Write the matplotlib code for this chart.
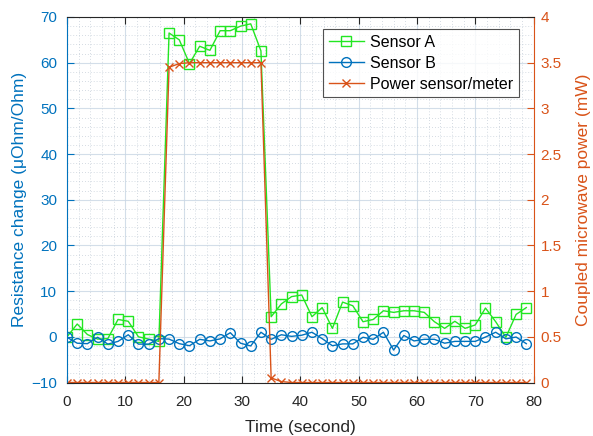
import numpy as np
import matplotlib
matplotlib.use("Agg")
import matplotlib.pyplot as plt
from matplotlib.ticker import MultipleLocator, FuncFormatter

plt.rcParams['font.family'] = ['Liberation Sans', 'DejaVu Sans']

time_step = 1.75
n_points = 46
time_s = [i * time_step for i in range(n_points)]

sensor_a = [0.0, 2.8, 0.5, -0.5, -0.4, 3.8, 3.4, 0.0, -0.5, -1.0,
            66.5, 65.0, 59.8, 63.6, 62.7, 67.0, 67.0, 68.0, 68.5, 62.6,
            4.4, 7.2, 8.8, 9.15, 4.4, 6.4, 1.85, 7.6, 6.8, 3.3,
            3.8, 5.7, 5.35, 5.7, 5.7, 5.35, 3.3, 1.85, 3.4, 1.85,
            2.6, 6.3, 3.3, -0.1, 4.9, 6.4]

sensor_b = [-0.1, -1.4, -1.5, -0.1, -1.6, -1.0, 0.45, -1.6, -1.6, -0.4,
            -0.5, -1.5, -1.95, -0.55, -0.9, -0.45, 0.9, -1.4, -2.0, 1.0,
            -0.55, 0.45, 0.1, 0.35, 1.0, -0.4, -1.95, -1.55, -1.55, -0.1,
            -0.55, 1.0, -2.9, 0.3, -0.9, -0.55, -0.55, -1.4, -1.0, -1.0,
            -1.0, -0.05, 1.0, -0.45, -0.05, -1.5]

power_mw = [0, 0, 0, 0, 0, 0, 0, 0, 0, 0,
            3.45, 3.49, 3.5, 3.5, 3.5, 3.5, 3.5, 3.5, 3.5, 3.5,
            0.05, 0.01, 0, 0, 0, 0, 0, 0, 0, 0,
            0, 0, 0, 0, 0, 0, 0, 0, 0, 0,
            0, 0, 0, 0, 0, 0]

blue = '#0072BD'
orange = '#D95319'
green = '#22e622'

fig = plt.figure(figsize=(5.93, 4.36), dpi=100)
ax1 = fig.add_axes([67/593, 1-382.5/436, (533.6-67)/593, (382.5-17)/436])
ax2 = ax1.twinx()

l1, = ax1.plot(time_s, sensor_a, '-', color=green, lw=1.0, marker='s', ms=6.5,
               mfc='none', mec=green, mew=1.0, label='Sensor A')
l2, = ax1.plot(time_s, sensor_b, '-', color=blue, lw=1.0, marker='o', ms=7,
               mfc='none', mec=blue, mew=1.0, label='Sensor B')
l3, = ax2.plot(time_s, power_mw, '-', color=orange, lw=1.0, marker='x', ms=5.5,
               mew=1.0, label='Power sensor/meter')

ax1.set_xlim(0, 80)
ax1.set_ylim(-10, 70)
ax2.set_ylim(0, 4)

ax1.xaxis.set_major_locator(MultipleLocator(10))
ax1.xaxis.set_minor_locator(MultipleLocator(2))
ax1.yaxis.set_major_locator(MultipleLocator(10))
ax1.yaxis.set_minor_locator(MultipleLocator(2))
ax2.yaxis.set_major_locator(MultipleLocator(0.5))

ax1.grid(which='major', color='#c8d6e4', lw=0.8, alpha=0.8)
ax1.grid(which='minor', color='#b8c4d0', lw=0.6, ls=(0, (1, 2.5)), alpha=0.8)
ax1.set_axisbelow(True)

ax1.tick_params(axis='both', which='major', direction='in', length=5, labelsize=11)
ax1.tick_params(axis='both', which='minor', length=0)
ax1.tick_params(axis='x', top=True, colors='#262626', pad=9)
ax1.tick_params(axis='y', colors=blue, pad=7)
ax2.tick_params(axis='y', direction='in', length=5, labelsize=11, colors=orange, pad=5)

ax2.spines['left'].set_color(blue)
ax2.spines['right'].set_color(orange)
ax2.spines['top'].set_color('#262626')
ax2.spines['bottom'].set_color('#262626')
for s in ax1.spines.values():
    s.set_visible(False)
for s in ax2.spines.values():
    s.set_linewidth(0.8)

ax2.yaxis.set_major_formatter(FuncFormatter(lambda v, p: f'{v:g}'))

ax1.set_xlabel('Time (second)', fontsize=12.5, color='#262626', labelpad=8)
ax1.set_ylabel('Resistance change (μOhm/Ohm)', fontsize=12.5, color=blue, labelpad=3)
ax2.set_ylabel('Coupled microwave power (mW)', fontsize=12.5, color=orange, labelpad=10)

leg = ax2.legend(handles=[l1, l2, l3], loc='upper right', bbox_to_anchor=(0.969, 0.967),
                 borderaxespad=0, fontsize=11.5, frameon=True, fancybox=False,
                 edgecolor='#262626', handlelength=2.2, borderpad=0.35,
                 labelspacing=0.38, handletextpad=0.4)
leg.get_frame().set_linewidth(0.8)

fig.savefig('out.png', dpi=100)
